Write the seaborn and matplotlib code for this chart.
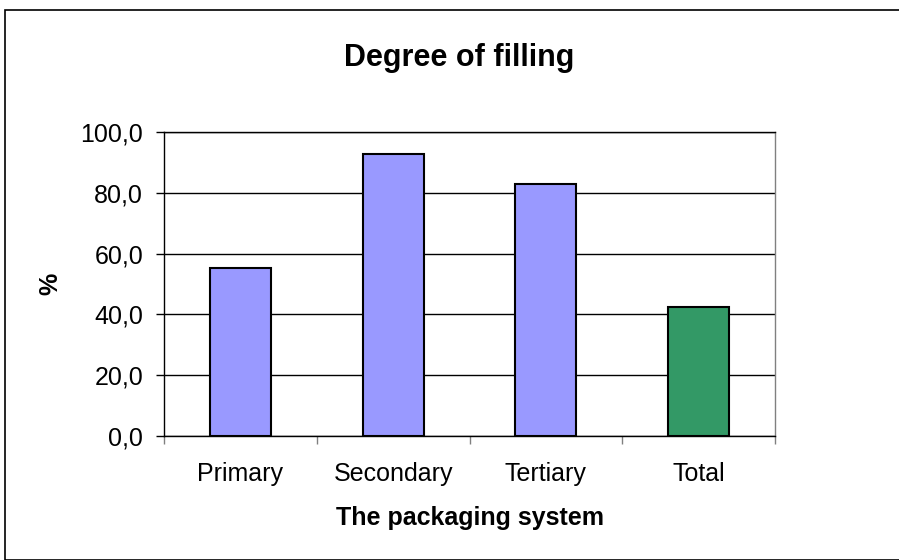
import matplotlib
matplotlib.use('Agg')
import matplotlib.pyplot as plt
import seaborn as sns
from matplotlib.ticker import FuncFormatter, FixedLocator
from matplotlib.patches import Rectangle

# values
categories = ['Primary', 'Secondary', 'Tertiary', 'Total']
values = [55.2, 92.8, 82.9, 42.6]
bar_colors = ['#9999FF', '#9999FF', '#9999FF', '#339966']
y_ticks = [0, 20, 40, 60, 80, 100]

sns.set_style('white')
plt.rcParams['font.family'] = ['Liberation Sans', 'DejaVu Sans']
plt.rcParams['text.color'] = 'black'
plt.rcParams['axes.labelcolor'] = 'black'
plt.rcParams['xtick.color'] = 'black'
plt.rcParams['ytick.color'] = 'black'
plt.rcParams['xtick.bottom'] = True
plt.rcParams['ytick.left'] = True

fig = plt.figure(figsize=(8.99, 5.6), dpi=100)
ax = fig.add_axes([0.1824, 0.2214, 0.6797, 0.5429])

sns.barplot(x=categories, y=values, hue=categories, palette=bar_colors,
            width=0.4, edgecolor='black', linewidth=1.5, legend=False,
            saturation=1, ax=ax)

ax.set_xlim(-0.5, len(categories) - 0.5)
ax.set_ylim(0, 100)
ax.set_yticks(y_ticks)
ax.yaxis.set_major_formatter(FuncFormatter(lambda v, p: f'{v:.1f}'.replace('.', ',')))
ax.yaxis.grid(True, color='black', linewidth=1)
ax.set_axisbelow(True)

# category separators as ticks
ax.xaxis.set_minor_locator(FixedLocator([i - 0.5 for i in range(len(categories) + 1)]))
ax.tick_params(axis='x', which='major', length=0, pad=19, labelsize=18)
ax.tick_params(axis='x', which='minor', length=6, direction='out', color='#808080', width=1)
ax.tick_params(axis='y', which='major', length=6, direction='out', color='black', width=1,
               labelsize=18, pad=9)

for side in ['left', 'right', 'top', 'bottom']:
    ax.spines[side].set_visible(True)
    ax.spines[side].set_color('black')
    ax.spines[side].set_linewidth(1)
ax.spines['right'].set_color('#808080')

ax.set_xlabel('The packaging system', fontsize=18, fontweight='bold', labelpad=14)
ax.set_ylabel('%', fontsize=18, fontweight='bold', labelpad=13)

fig.text(0.511, 0.897, 'Degree of filling', ha='center', va='center',
         fontsize=22, fontweight='bold')

# outer chart border
fig.patches.append(Rectangle((5 / 899, 0), 1.0, 1 - 10 / 560, transform=fig.transFigure,
                             fill=False, edgecolor='black', linewidth=1.2))

fig.savefig('out.png', dpi=100)
